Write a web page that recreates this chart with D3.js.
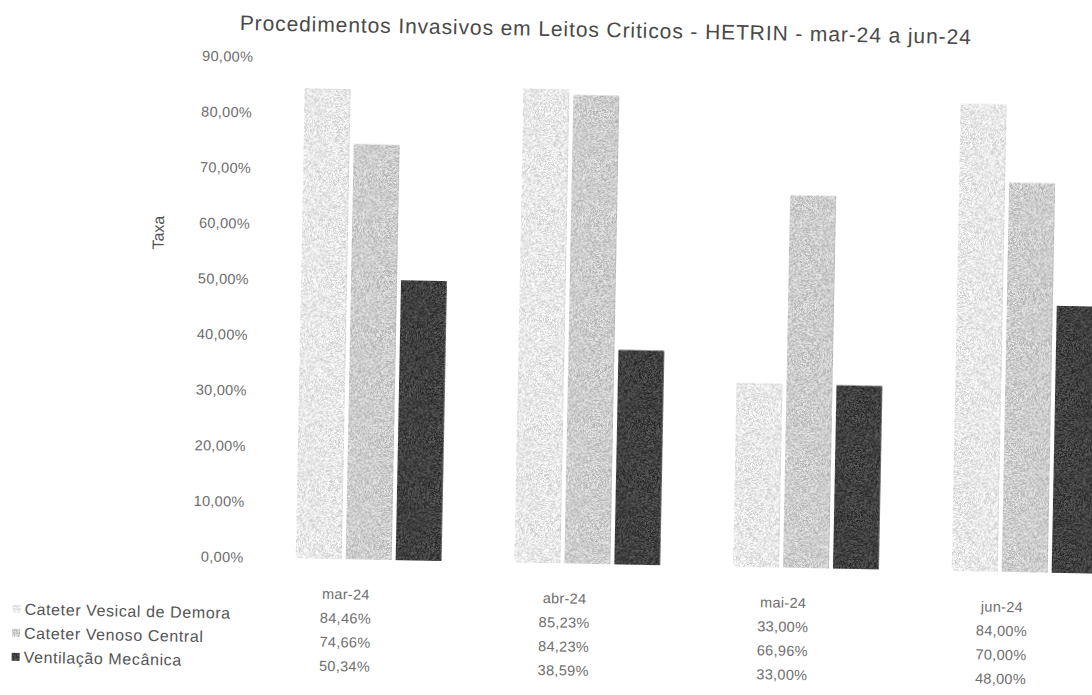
<!DOCTYPE html>
<html>
<head>
<meta charset="utf-8">
<script src="https://cdn.jsdelivr.net/npm/d3@7"></script>
<style>
  body { margin: 0; background: #fff; overflow: hidden; }
  svg { display: block; font-family: "Liberation Sans", Arial, sans-serif; }
</style>
</head>
<body>
<div id="chart"></div>
<script>
// data
const months = ["mar-24", "abr-24", "mai-24", "jun-24"];
const seriesNames = ["Cateter Vesical de Demora", "Cateter Venoso Central", "Ventilação Mecânica"];
const vesical = [84.46, 85.23, 33.00, 84.00];
const venoso = [74.66, 84.23, 66.96, 70.00];
const ventilacao = [50.34, 38.59, 33.00, 48.00];
const yTicks = [0, 10, 20, 30, 40, 50, 60, 70, 80, 90];
const titleText = "Procedimentos Invasivos em Leitos Criticos - HETRIN - mar-24 a jun-24";

const seriesValues = [vesical, venoso, ventilacao];
const colors = ["#e9e9e9", "#cdcdcd", "#404040"];

const width = 1092, height = 695;

const svg = d3.select("#chart").append("svg")
    .attr("width", width)
    .attr("height", height);

// grainy "scanned" look for the bars: fine per-pixel noise added to the fill
const defs = svg.append("defs");
const grain = defs.append("filter").attr("id", "grain")
    .attr("x", 0).attr("y", 0).attr("width", 1).attr("height", 1)
    .attr("color-interpolation-filters", "sRGB");
grain.append("feTurbulence")
    .attr("type", "fractalNoise")
    .attr("baseFrequency", 2.2)
    .attr("numOctaves", 1)
    .attr("seed", 5)
    .attr("result", "noise");
grain.append("feColorMatrix")
    .attr("in", "noise")
    .attr("type", "matrix")
    .attr("values", "3.5 0 0 0 -1.25  3.5 0 0 0 -1.25  3.5 0 0 0 -1.25  0 0 0 0 1")
    .attr("result", "gray");
grain.append("feComposite")
    .attr("in", "SourceGraphic").attr("in2", "gray")
    .attr("operator", "arithmetic")
    .attr("k1", 0).attr("k2", 1).attr("k3", 0.22).attr("k4", -0.11)
    .attr("result", "mixed");
grain.append("feComposite")
    .attr("in", "mixed").attr("in2", "SourceGraphic")
    .attr("operator", "in");

// the scan is slightly tilted, so the whole chart is rotated a bit
const g = svg.append("g").attr("transform", "rotate(1.1, 650, 330)");

const x = d3.scaleBand()
    .domain(months)
    .range([263.7, 1138.5])
    .paddingInner(1 / 3)
    .paddingOuter(1 / 6);

const xSeries = d3.scaleBand()
    .domain(d3.range(seriesNames.length))
    .range([0, x.bandwidth()])
    .paddingInner(0.08);

const y = d3.scaleLinear()
    .domain([0, 80])
    .range([565, 120]);

const locale = d3.formatLocale({ decimal: ",", thousands: ".", grouping: [3], currency: ["", ""] });
const fmt = v => locale.format(".2f")(v) + "%";

// title
g.append("text")
    .attr("x", 600)
    .attr("y", 38)
    .attr("text-anchor", "middle")
    .style("font-size", "21px")
    .style("letter-spacing", "0.9px")
    .style("fill", "#4a4a4a")
    .text(titleText);

// y axis (labels only, no line)
const yAxis = g.append("g")
    .attr("transform", "translate(248,0)")
    .call(d3.axisLeft(y).tickValues(yTicks).tickSize(0).tickPadding(0).tickFormat(fmt));
yAxis.select(".domain").remove();
yAxis.selectAll("text")
    .style("font-size", "14.5px")
    .style("letter-spacing", "0.3px")
    .style("font-family", "Liberation Sans, Arial, sans-serif")
    .style("fill", "#6e6e6e");

g.append("text")
    .attr("transform", "translate(162,242) rotate(-90)")
    .attr("text-anchor", "middle")
    .style("font-size", "16px")
    .style("fill", "#555")
    .text("Taxa");

// bars
const groups = g.selectAll(".month")
    .data(months)
    .enter().append("g")
    .attr("class", "month")
    .attr("transform", d => `translate(${x(d)},0)`);

groups.selectAll("rect")
    .data((m, i) => seriesValues.map((vals, s) => ({ s: s, v: vals[i] })))
    .enter().append("rect")
    .attr("x", d => xSeries(d.s))
    .attr("y", d => y(d.v))
    .attr("width", xSeries.bandwidth())
    .attr("height", d => y(0) - y(d.v))
    .attr("filter", "url(#grain)")
    .style("fill", d => colors[d.s]);

// data table below the chart
const rowY = [600, 624, 648, 672];
const colX = m => x(m) + x.bandwidth() / 2 - 22;

const table = g.append("g")
    .style("font-size", "14.5px")
    .style("letter-spacing", "0.3px")
    .style("fill", "#6e6e6e");

table.selectAll(".hdr")
    .data(months)
    .enter().append("text")
    .attr("class", "hdr")
    .attr("x", colX)
    .attr("y", rowY[0])
    .attr("dy", "0.35em")
    .attr("text-anchor", "middle")
    .text(d => d);

seriesValues.forEach((vals, s) => {
    table.selectAll(".val" + s)
        .data(months)
        .enter().append("text")
        .attr("class", "val" + s)
        .attr("x", colX)
        .attr("y", rowY[s + 1])
        .attr("dy", "0.35em")
        .attr("text-anchor", "middle")
        .text((m, i) => fmt(vals[i]));
});

// legend keys on the left of the table
const legend = g.append("g");
const legRows = legend.selectAll(".leg")
    .data(seriesNames)
    .enter().append("g")
    .attr("class", "leg")
    .attr("transform", (d, i) => `translate(18,${rowY[i + 1] - 3})`);

legRows.append("rect")
    .attr("x", 0)
    .attr("y", -4)
    .attr("width", 8)
    .attr("height", 8)
    .attr("filter", "url(#grain)")
    .style("fill", (d, i) => colors[i]);

legRows.append("text")
    .attr("x", 12)
    .attr("dy", "0.35em")
    .style("font-size", "16px")
    .style("letter-spacing", "0.6px")
    .style("fill", "#555")
    .text(d => d);
</script>
</body>
</html>
